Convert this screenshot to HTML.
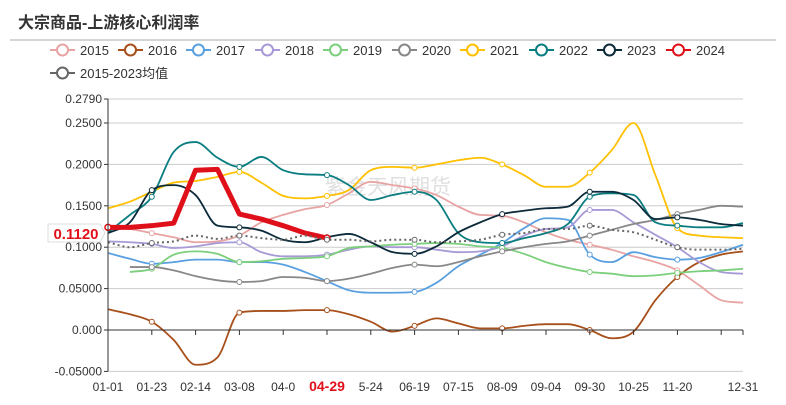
<!DOCTYPE html>
<html><head><meta charset="utf-8"><style>
html,body{margin:0;padding:0;background:#fff;}
body{width:786px;height:400px;overflow:hidden;font-family:"Liberation Sans","Noto Sans CJK SC",sans-serif;}
svg text{font-family:"Liberation Sans","Noto Sans CJK SC",sans-serif;}
</style></head><body>
<svg id="chart" width="786" height="400" viewBox="0 0 786 400">
<text x="18" y="28" font-size="16" font-weight="bold" fill="#333">大宗商品-上游核心利润率</text>
<line x1="10" y1="40" x2="776" y2="40" stroke="#aaa" stroke-width="1"/>
<text x="325" y="194" font-size="21" fill="#e0e0e0">紫金天风期货</text>
<g id="grid"></g><g id="series"></g><g id="axes"></g><g id="legend"></g>
</svg>
<script>
const xLabels=["01-01","01-23","02-14","03-08","04-0","04-29","5-24","06-19","07-15","08-09","09-04","09-30","10-25","11-20","12-31"];
const yTicks=[0.279,0.25,0.2,0.15,0.1,0.05,0,-0.05];
const yTickLabels=["0.2790","0.2500","0.2000","0.1500","0.1000","0.05000","0.000","-0.05000"];
const seriesNames=["2015","2016","2017","2018","2019","2020","2021","2022","2023","2024","2015-2023均值"];
const s2015=[.124,.122,.117,.112,.106,.107,.114,.130,.139,.146,.151,.165,.179,.175,.171,.163,.149,.139,.138,.130,.118,.109,.103,.097,.089,.082,.072,.054,.036,.033];
const s2016=[.025,.019,.010,-.012,-.042,-.033,.021,.023,.023,.024,.024,.019,.010,-.002,.005,.014,.008,.002,.002,.005,.007,.007,0,-.010,-.002,.036,.064,.082,.091,.095];
const s2017=[.093,.086,.080,.082,.085,.085,.082,.082,.079,.070,.059,.048,.045,.045,.046,.057,.077,.091,.105,.123,.135,.133,.091,.082,.094,.088,.085,.087,.094,.103];
const s2018=[.107,.106,.104,.099,.101,.105,.106,.094,.089,.089,.091,.097,.101,.100,.100,.097,.094,.095,.101,.114,.122,.124,.145,.145,.130,.115,.100,.082,.070,.068];
const s2019=[null,.070,.074,.091,.095,.092,.082,.083,.086,.087,.089,.099,.101,.103,.104,.105,.104,.101,.099,.092,.082,.075,.070,.068,.065,.066,.069,.071,.072,.074];
const s2020=[null,.076,.076,.072,.065,.060,.058,.059,.064,.063,.059,.062,.068,.075,.079,.077,.082,.089,.095,.100,.104,.107,.114,.121,.128,.133,.140,.145,.150,.149];
const s2021=[.147,.155,.167,.178,.180,.185,.191,.178,.162,.159,.162,.169,.193,.197,.196,.200,.205,.208,.200,.187,.173,.173,.190,.217,.250,.187,.123,.114,.112,.111];
const s2022=[.118,.139,.161,.215,.227,.208,.197,.209,.193,.188,.187,.175,.157,.163,.167,.157,.117,.106,.105,.111,.117,.128,.161,.165,.163,.130,.126,.124,.124,.129];
const s2023=[.117,.130,.169,.175,.163,.126,.124,.120,.109,.106,.112,.116,.106,.094,.092,.101,.118,.130,.140,.144,.147,.149,.167,.167,.157,.134,.136,.133,.128,.126];
const s2024=[.124,.124,.126,.129,.193,.194,.140,.134,.126,.117,.111];
const sAvg=[.106,.100,.105,.107,.114,.110,.114,.111,.109,.114,.109,.109,.107,.109,.109,.106,.107,.109,.115,.117,.122,.122,.126,.121,.118,.109,.100,.097,.097,.098];
const lastLabel="0.1120";

const NS="http://www.w3.org/2000/svg";
const X0=108,X1=743,NPTS=30;
function xPos(i){return X0+i*(X1-X0)/(NPTS-1);}
function yPos(v){return 330-v*828;}
function mk(tag,attrs,parent){const e=document.createElementNS(NS,tag);for(const k in attrs)e.setAttribute(k,attrs[k]);parent.appendChild(e);return e;}
const grid=document.getElementById('grid'),axes=document.getElementById('axes'),ser=document.getElementById('series'),leg=document.getElementById('legend');

yTicks.forEach((t,i)=>{
  const y=yPos(t);
  if(t!==0){const l=mk('line',{x1:X0,x2:X1,y1:y,y2:y,stroke:'#ccc','stroke-width':1},grid);
  
  }
  mk('line',{x1:X0-4,x2:X0,y1:y,y2:y,stroke:'#333'},axes);
  const tx=mk('text',{x:X0-6,y:y+4,'font-size':12,fill:'#333','text-anchor':'end'},axes);
  tx.textContent=yTickLabels[i];
  
  
});
const ya=mk('line',{x1:X0,x2:X0,y1:yPos(0.279),y2:yPos(-0.05),stroke:'#333'},axes);


const xa=mk('line',{x1:X0,x2:X1,y1:yPos(0),y2:yPos(0),stroke:'#333'},axes);


const tickStep=43.8;
for(let k=0;X0+k*tickStep<=X1+1;k++){mk('line',{x1:X0+k*tickStep,x2:X0+k*tickStep,y1:330,y2:335,stroke:'#333'},axes);}
mk('line',{x1:X1,x2:X1,y1:330,y2:335,stroke:'#333'},axes);
xLabels.forEach((lab,k)=>{
  const x=k<xLabels.length-1?X0+k*tickStep:X1;
  const red=lab==="04-29";
  const tx=mk('text',{x:x,y:391,'font-size':red?14:12,fill:red?'#e0101a':'#333','font-weight':red?'bold':'normal','text-anchor':'middle'},axes);
  tx.textContent=lab;
  
  
});

function smoothPath(vals){
  const pts=[];vals.forEach((v,i)=>{if(v!==null)pts.push([xPos(i),yPos(v)]);});
  const n=pts.length,dl=[],m=[];
  for(let i=0;i<n-1;i++)dl.push((pts[i+1][1]-pts[i][1])/(pts[i+1][0]-pts[i][0]));
  for(let i=0;i<n;i++){
    if(i===0)m.push(dl[0]);else if(i===n-1)m.push(dl[n-2]);
    else m.push(dl[i-1]*dl[i]<=0?0:(dl[i-1]+dl[i])/2);
  }
  for(let i=0;i<n-1;i++){
    if(dl[i]===0){m[i]=0;m[i+1]=0;continue;}
    const a=m[i]/dl[i],b=m[i+1]/dl[i],s=a*a+b*b;
    if(s>9){const t=3/Math.sqrt(s);m[i]=t*a*dl[i];m[i+1]=t*b*dl[i];}
  }
  let d='M'+pts[0][0]+','+pts[0][1];
  for(let i=0;i<n-1;i++){
    const h=(pts[i+1][0]-pts[i][0])/3;
    d+=` C${pts[i][0]+h},${pts[i][1]+m[i]*h} ${pts[i+1][0]-h},${pts[i+1][1]-m[i+1]*h} ${pts[i+1][0]},${pts[i+1][1]}`;
  }
  return d;
}
const colors=["#e8a3a3","#a8501b","#5aa0e0","#a89ad6","#7ccf7c","#888","#ffc000","#0a7d80","#0c2a3a","#e0101a","#666"];
const allSeries=[s2015,s2016,s2017,s2018,s2019,s2020,s2021,s2022,s2023,s2024,sAvg];
allSeries.forEach((vals,si)=>{
  const g=mk('g',{},ser);
  
  
  let d;
  if(si===9){d='';vals.forEach((v,i)=>{d+=(i?'L':'M')+xPos(i)+','+yPos(v);});}
  else d=smoothPath(vals);
  const p=mk('path',{d:d,fill:'none',stroke:colors[si],'stroke-width':si===9?5:(si===10?2:1.8),'stroke-linejoin':'round'},g);
  if(si===10)p.setAttribute('stroke-dasharray','2,3');
  
  
  if(si!==9){vals.forEach((v,i)=>{if(v!==null&&i%4===2){
    const c=mk('circle',{cx:xPos(i),cy:yPos(v),r:2.5,fill:'#fff',stroke:colors[si],'stroke-width':1},g);
    
    }});}
  else{
    const c=mk('circle',{cx:xPos(0),cy:yPos(vals[0]),r:3,fill:'#fff',stroke:colors[si],'stroke-width':1.5},g);
    
    
    const lc=mk('circle',{cx:xPos(vals.length-1),cy:yPos(vals[vals.length-1]),r:3,fill:'#fff',stroke:colors[si],'stroke-width':1.5},g);
    
    
  }
});
const lb=mk('g',{},axes);


mk('path',{d:'M48,224 H100 L105,233 L100,242 H48 Z',fill:'#fff',stroke:'#ddd'},lb);
const lt=mk('text',{x:76,y:239,'font-size':15,'font-weight':'bold',fill:'#e0101a','text-anchor':'middle'},lb);
lt.textContent=lastLabel;

const legPos=[[50,50],[118,50],[186,50],[255,50],[323,50],[392,50],[460,50],[529,50],[597,50],[666,50],[50,73]];
seriesNames.forEach((n,i)=>{
  const [x,y]=legPos[i];
  const g=mk('g',{},leg);
  
  
  mk('line',{x1:x,x2:x+25,y1:y,y2:y,stroke:colors[i],'stroke-width':2},g);
  mk('circle',{cx:x+12.5,cy:y,r:5.5,fill:'#fff',stroke:colors[i],'stroke-width':2},g);
  const t=mk('text',{x:x+30,y:y+5,'font-size':13,fill:'#333'},g);
  t.textContent=n;
});
</script>
</body></html>
